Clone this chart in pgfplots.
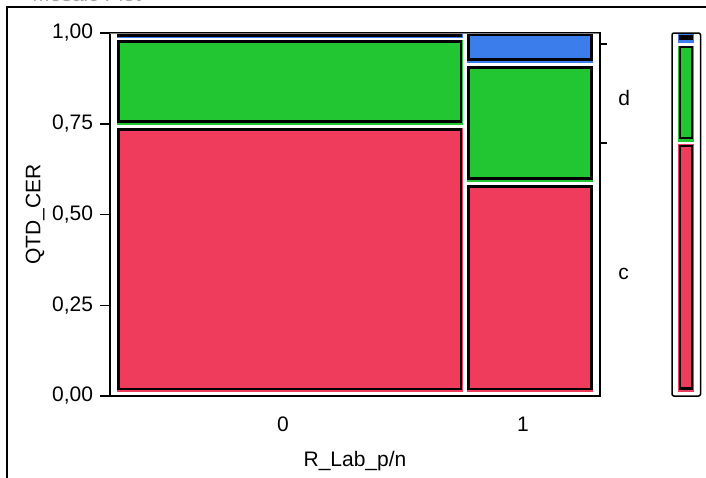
\documentclass[border=0pt]{standalone}
\usepackage{pgfplots}
\pgfplotsset{compat=1.18}
\usepackage{fontspec}
\setmainfont{Liberation Sans}
\definecolor{cR}{HTML}{EF3B5C}
\definecolor{cG}{HTML}{22C532}
\definecolor{cB}{HTML}{3B7DEB}
\pgfplotsset{
  tilefill/.style={draw=none, fill=#1, mark=none, forget plot},
  tileline/.style={draw=black, line width=1.25pt, fill=none, mark=none, forget plot},
}
\begin{document}
\begin{tikzpicture}[font=\fontsize{10.5}{12.6}\selectfont]
\useasboundingbox (0,0) rectangle (353pt,-238.5pt);
\draw[line width=0.8pt] (3.5pt,-260pt) -- (3.5pt,-3.5pt) -- (370pt,-3.5pt);
\node[gray!70, anchor=base west, inner sep=0pt] at (16pt,-0.7pt) {Mosaic Plot};

% ---------------- main mosaic ----------------
\begin{axis}[
  at={(55pt,-198pt)}, anchor=south west,
  width=245pt, height=181.5pt, scale only axis,
  xmin=0, xmax=1, ymin=0, ymax=1,
  axis line style={line width=0.75pt},
  every tick/.style={black, line width=0.75pt},
  ytick={0,0.25,0.5,0.75,1},
  yticklabels={{0,00},{0,25},{0,50},{0,75},{1,00}},
  ytick pos=left, tick align=outside, major tick length=5pt,
  yticklabel style={anchor=east, inner sep=0pt, xshift=-3.3pt},
  xtick={0.353,0.843}, xticklabels={0,1},
  xtick pos=bottom,
  x tick style={draw=none},
  xticklabel style={anchor=center, inner sep=0pt, yshift=-9pt},
  extra x ticks={0.7184}, extra x tick labels={},
  extra x tick style={tick style={draw=black, line width=0.75pt}},
  xlabel={R\_Lab\_p/n},
  xlabel style={at={(axis description cs:0.5,-0.179)}, anchor=center},
  ylabel={QTD\_CER},
  ylabel style={at={(axis description cs:-0.153,0.5)}, anchor=center},
  clip=false,
]
% column 0 (R_Lab_p/n = 0)
\addplot[tilefill=cR] coordinates {(0.0133,0.0110) (0.7214,0.0110) (0.7214,0.7375) (0.0133,0.7375)} -- cycle;
\addplot[tileline] coordinates {(0.0173,0.0193) (0.7163,0.0193) (0.7163,0.7342) (0.0173,0.7342)} -- cycle;
\addplot[tilefill=cG] coordinates {(0.0133,0.7457) (0.7214,0.7457) (0.7214,0.9807) (0.0133,0.9807)} -- cycle;
\addplot[tileline] coordinates {(0.0173,0.7568) (0.7163,0.7568) (0.7163,0.9760) (0.0173,0.9760)} -- cycle;
\addplot[tilefill=cB] coordinates {(0.0133,0.9854) (0.7214,0.9854) (0.7214,0.9986) (0.0133,0.9986)} -- cycle;
\addplot[tileline] coordinates {(0.0173,0.9931) (0.7163,0.9931) (0.7163,0.9972) (0.0173,0.9972)} -- cycle;
% column 1 (R_Lab_p/n = 1)
\addplot[tilefill=cR] coordinates {(0.7276,0.0110) (0.9867,0.0110) (0.9867,0.5813) (0.7276,0.5813)} -- cycle;
\addplot[tileline] coordinates {(0.7320,0.0193) (0.9831,0.0193) (0.9831,0.5766) (0.7320,0.5766)} -- cycle;
\addplot[tilefill=cG] coordinates {(0.7276,0.5904) (0.9867,0.5904) (0.9867,0.9091) (0.7276,0.9091)} -- cycle;
\addplot[tileline] coordinates {(0.7320,0.5997) (0.9831,0.5997) (0.9831,0.9044) (0.7320,0.9044)} -- cycle;
\addplot[tilefill=cB] coordinates {(0.7276,0.9182) (0.9867,0.9182) (0.9867,0.9972) (0.7276,0.9972)} -- cycle;
\addplot[tileline] coordinates {(0.7320,0.9264) (0.9831,0.9264) (0.9831,0.9945) (0.7320,0.9945)} -- cycle;
\draw[gray, line width=0.5pt] (rel axis cs:0,1) -- (rel axis cs:1,1);
\end{axis}

% ---------------- right-hand level axis ----------------
\begin{axis}[
  at={(55pt,-198pt)}, anchor=south west,
  width=245pt, height=181.5pt, scale only axis,
  xmin=0, xmax=1, ymin=0, ymax=1,
  axis x line=none, axis y line*=right,
  axis line style={line width=0.75pt},
  ytick={0.336,0.821}, yticklabels={c,d},
  major tick length=0pt,
  yticklabel style={anchor=west, inner sep=0pt, xshift=9pt},
  extra y ticks={0.697,0.9697}, extra y tick labels={},
  extra y tick style={major tick length=3.5pt, tick align=outside, tick style={black, line width=0.75pt}},
]
\end{axis}

% ---------------- marginal bar ----------------
\begin{axis}[
  at={(336pt,-198pt)}, anchor=south west,
  width=14.25pt, height=181.5pt, scale only axis,
  xmin=0, xmax=1, ymin=0, ymax=1,
  ticks=none,
  axis line style={line width=0.75pt, rounded corners=1pt},
]
\addplot[tilefill=cR] coordinates {(0.2105,0.0102) (0.7719,0.0102) (0.7719,0.6934) (0.2105,0.6934)} -- cycle;
\addplot[tileline] coordinates {(0.2737,0.0212) (0.6947,0.0212) (0.6947,0.6887) (0.2737,0.6887)} -- cycle;
\addplot[tilefill=cG] coordinates {(0.2105,0.7006) (0.7719,0.7006) (0.7719,0.9642) (0.2105,0.9642)} -- cycle;
\addplot[tileline] coordinates {(0.2737,0.7107) (0.6947,0.7107) (0.6947,0.9614) (0.2737,0.9614)} -- cycle;
\addplot[tilefill=cB] coordinates {(0.2105,0.9733) (0.7719,0.9733) (0.7719,0.9972) (0.2105,0.9972)} -- cycle;
\addplot[tileline] coordinates {(0.2737,0.9849) (0.6947,0.9849) (0.6947,0.9923) (0.2737,0.9923)} -- cycle;
\end{axis}
\end{tikzpicture}
\end{document}
